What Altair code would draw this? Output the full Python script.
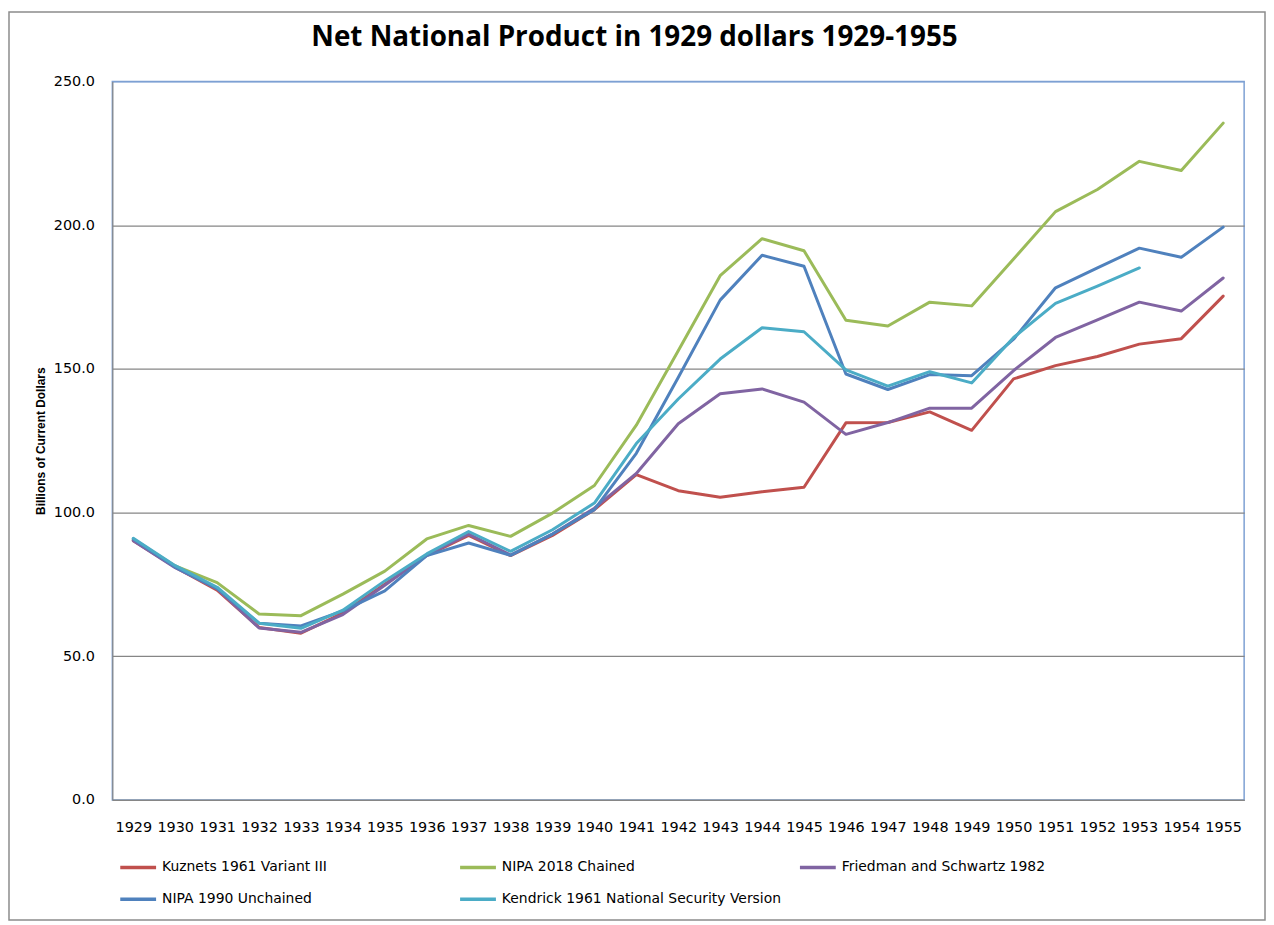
import altair as alt
import pandas as pd

years = [str(y) for y in range(1929, 1956)]

kuznets = [90.2, 81.0, 73.0, 60.0, 58.0, 65.0, 75.0, 85.0, 92.0, 85.0, 92.0, 101.0, 113.2, 107.6,
           105.3, 107.2, 108.8, 131.2, 131.3, 135.0, 128.6, 146.5, 151.1, 154.3, 158.6, 160.5, 175.3]
nipa2018 = [90.6, 81.4, 75.6, 64.7, 64.1, 71.6, 79.6, 90.8, 95.5, 91.7, 99.8, 109.4, 130.4, 156.3,
            182.4, 195.3, 191.1, 166.9, 164.9, 173.2, 171.9, 188.2, 204.7, 212.4, 222.2, 219.0, 235.5]
friedman = [90.2, 80.8, 73.5, 59.8, 58.3, 64.5, 74.7, 85.2, 92.5, 85.2, 92.5, 101.5, 113.6, 130.9,
            141.3, 143.0, 138.4, 127.2, 131.3, 136.3, 136.3, 149.4, 160.9, 167.0, 173.2, 170.1, 181.6]
nipa1990 = [90.8, 81.0, 73.5, 61.5, 60.5, 65.8, 72.7, 85.0, 89.4, 85.1, 92.5, 101.0, 120.6, 147.0,
            173.9, 189.5, 185.7, 148.2, 142.8, 148.0, 147.6, 160.3, 178.2, 185.1, 192.0, 188.8, 199.3]
kendrick = [91.0, 81.5, 74.0, 61.5, 59.7, 66.0, 76.2, 85.6, 93.4, 86.5, 94.0, 103.3, 124.0, 139.5,
            153.4, 164.3, 162.9, 149.6, 144.0, 149.0, 145.1, 160.9, 172.8, 178.8, 185.1]

series_names = ["Kuznets 1961 Variant III", "NIPA 2018 Chained", "Friedman and Schwartz 1982",
                "NIPA 1990 Unchained", "Kendrick 1961 National Security Version"]
series_values = [kuznets, nipa2018, friedman, nipa1990, kendrick]
series_colors = ["#C0504D", "#9BBB59", "#8064A2", "#4F81BD", "#4BACC6"]

rows = []
for i, (name, vals) in enumerate(zip(series_names, series_values)):
    for yr, v in zip(years, vals):
        rows.append({"Year": yr, "Series": name, "Value": v, "order": i})
df = pd.DataFrame(rows)

W, H = 1139, 723
AXIS_FONT = "DejaVu Sans"

lines = alt.Chart(df).mark_line(strokeWidth=3, strokeJoin="round", strokeCap="round").encode(
    x=alt.X("Year:O", sort=years,
            scale=alt.Scale(domain=years, padding=0.5),
            axis=alt.Axis(title=None, labelAngle=0, labelFontSize=14.5, labelFont=AXIS_FONT,
                          labelColor="#000", labelPadding=21, ticks=False,
                          domainColor="#868686", domainWidth=1.2, grid=False)),
    y=alt.Y("Value:Q",
            scale=alt.Scale(domain=[0, 250], nice=False, zero=True),
            axis=alt.Axis(title="Billions of Current Dollars", values=[0, 50, 100, 150, 200, 250],
                          format=".1f", labelFontSize=14.5, labelFont=AXIS_FONT, labelColor="#000",
                          labelPadding=18, ticks=False, domainColor="#868686", domainWidth=1.2,
                          gridColor={"condition": {"test": "datum.value == 250", "value": "#7EA1D3"},
                                     "value": "#868686"},
                          gridWidth=1.2,
                          titleFont="Liberation Sans", titleFontSize=12, titleFontWeight="bold",
                          titleColor="#000", titleAngle=270, titleX=-72, titleY=H / 2,
                          titleAlign="center", titleBaseline="middle")),
    color=alt.Color("Series:N", sort=series_names,
                    scale=alt.Scale(domain=series_names, range=series_colors),
                    legend=alt.Legend(title=None, orient="none", legendX=6, legendY=771,
                                      columns=3, direction="horizontal", gridAlign="all",
                                      columnPadding=10, rowPadding=5,
                                      symbolType="stroke", symbolStrokeWidth=3.5, symbolSize=1300,
                                      labelFont=AXIS_FONT, labelFontSize=14, labelColor="#000",
                                      labelOffset=4, labelLimit=400)),
    order=alt.Order("order:Q"),
    detail="Series:N",
)

frame = alt.Chart(alt.Data(values=[{}])).mark_rect(
    fill=None, stroke="#8C8C8C", strokeWidth=1.5
).encode(
    x=alt.value(-104), x2=alt.value(W + 21), y=alt.value(-70), y2=alt.value(H + 121)
)

chart = alt.layer(frame, lines).properties(
    width=W, height=H,
    autosize=alt.AutoSizeParams(type="none"),
    padding={"left": 105, "top": 71, "right": 22, "bottom": 123},
    title=alt.TitleParams("Net National Product in 1929 dollars 1929-1955",
                          font="Open Sans", fontSize=28, fontWeight="bold", color="#000",
                          anchor="middle", dx=-44, dy=67, offset=26),
).configure_view(stroke="#7EA1D3", strokeWidth=1.5)

chart.save("out.html", embed_options={"renderer": "svg", "actions": False})
